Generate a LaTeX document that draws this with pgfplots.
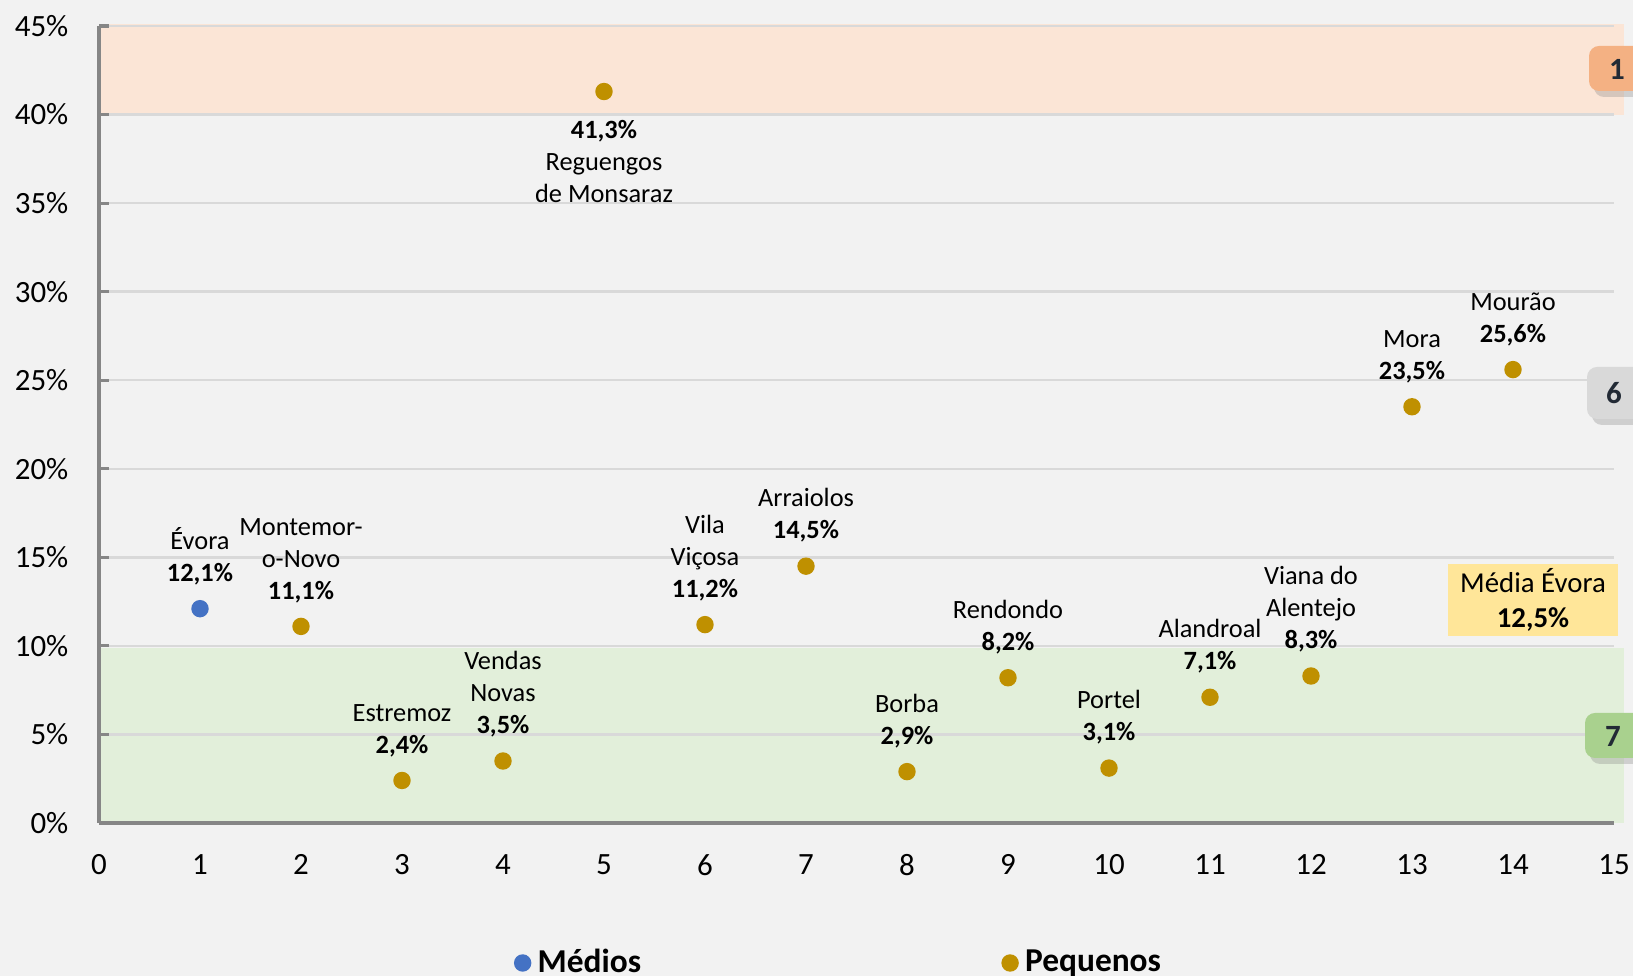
\documentclass[border=0pt]{standalone}
\usepackage{pgfplots}
\pgfplotsset{compat=1.18}
\usepackage{fontspec}
\setmainfont{Carlito}
\usetikzlibrary{shadows}

\definecolor{bg}{HTML}{F2F2F2}
\definecolor{gridc}{HTML}{D9D9D9}
\definecolor{axc}{HTML}{868686}
\definecolor{medios}{HTML}{4472C4}
\definecolor{pequenos}{HTML}{BF9000}
\definecolor{bandtop}{HTML}{FBE5D6}
\definecolor{bandlow}{HTML}{E2EFDA}
\definecolor{badgeo}{HTML}{F4B183}
\definecolor{badgeg}{HTML}{D9D9D9}
\definecolor{badgev}{HTML}{A9D18E}
\definecolor{mediabox}{HTML}{FFE699}
\definecolor{badgetxt}{HTML}{222A35}

\tikzset{
  lbl/.style={font=\fontsize{7.5}{9.1}\selectfont, align=center, inner sep=0pt, text=black},
}

\begin{document}
\begin{tikzpicture}
\begin{axis}[
  set layers,
  at={(9.9mm,15.3mm)}, anchor=south west,
  scale only axis, width=151.5mm, height=79.7mm,
  xmin=0, xmax=15, ymin=0, ymax=45,
  xtick={0,...,15},
  ytick={0,5,...,45},
  yticklabels={0\%,5\%,10\%,15\%,20\%,25\%,30\%,35\%,40\%,45\%},
  axis x line*=bottom, axis y line*=left,
  axis line style={-, axc, line width=0.9pt},
  ymajorgrids, grid style={gridc, line width=0.7pt},
  tick align=inside, major tick length=1mm,
  xtick style={draw=none},
  ytick style={axc, line width=0.9pt},
  ticklabel style={font=\fontsize{8.8}{10.5}\selectfont, text=black},
  yticklabel style={anchor=east, inner sep=0pt, xshift=-3mm},
  xticklabel style={anchor=north, inner sep=0pt, yshift=-3.1mm},
  /pgf/number format/assume math mode=true,
  clip=false,
  legend columns=2,
  legend image code/.code={\draw[#1] plot coordinates {(0,0)};},
  legend style={at={(axis description cs:0.49,0)}, anchor=center, yshift=-14.0mm,
    draw=none, fill=none, font=\bfseries\fontsize{9.5}{11}\selectfont,
    /tikz/every even column/.append style={column sep=35.4mm}},
]
\begin{pgfonlayer}{axis background}
\fill[bg] (rel axis cs:-0.2,-0.4) rectangle (rel axis cs:1.2,1.2);
\end{pgfonlayer}
\addplot[on layer=axis background, forget plot, fill=bandtop, draw=none]
  coordinates {(0,40) (15.1,40) (15.1,45.1) (0,45.1)} -- cycle;
\addplot[on layer=axis background, forget plot, fill=bandlow, draw=none]
  coordinates {(0,0) (15.1,0) (15.1,9.9) (0,9.9)} -- cycle;

% Médios
\addplot[only marks, mark=*, color=medios, mark size=0.8mm,
  mark options={fill=medios, draw=medios},
  point meta=explicit symbolic, nodes near coords={\pgfplotspointmeta},
  every node near coord/.style={lbl, anchor=south, yshift=2.3mm}]
  coordinates {(1,12.1) [{Évora\\\textbf{12,1\%}}]};
\addlegendentry{Médios}

% Pequenos
\addplot[only marks, mark=*, color=pequenos, mark size=0.8mm,
  mark options={fill=pequenos, draw=pequenos},
  point meta=explicit symbolic, nodes near coords={\pgfplotspointmeta},
  every node near coord/.style={lbl, anchor=south, yshift=2.3mm}]
  coordinates {
  (2,11.1) [{Montemor-\\o-Novo\\\textbf{11,1\%}}]
  (3,2.4) [{Estremoz\\\textbf{2,4\%}}]
  (4,3.5) [{Vendas\\Novas\\\textbf{3,5\%}}]
  (6,11.2) [{Vila\\Viçosa\\\textbf{11,2\%}}]
  (7,14.5) [{Arraiolos\\\textbf{14,5\%}}]
  (8,2.9) [{Borba\\\textbf{2,9\%}}]
  (9,8.2) [{Rendondo\\\textbf{8,2\%}}]
  (10,3.1) [{Portel\\\textbf{3,1\%}}]
  (11,7.1) [{Alandroal\\\textbf{7,1\%}}]
  (12,8.3) [{Viana do\\Alentejo\\\textbf{8,3\%}}]
  (13,23.5) [{Mora\\\textbf{23,5\%}}]
  (14,25.6) [{Mourão\\\textbf{25,6\%}}]
  };
\addlegendentry{Pequenos}

\addplot[forget plot, only marks, mark=*, color=pequenos, mark size=0.8mm,
  mark options={fill=pequenos, draw=pequenos},
  point meta=explicit symbolic, nodes near coords={\pgfplotspointmeta},
  every node near coord/.style={lbl, anchor=north, yshift=-2.8mm}]
  coordinates {(5,41.3) [{\textbf{41,3\%}\\Reguengos\\de Monsaraz}]};
\end{axis}

% Média Évora box
\node[fill=mediabox, minimum width=17mm, minimum height=7.2mm, inner sep=0pt,
  align=center, font=\fontsize{8.2}{10.2}\selectfont]
  at (153.3mm,37.6mm) {Média Évora\\\textbf{12,5\%}};

% badges
\fill[badgeo, rounded corners=1mm, drop shadow={shadow xshift=0.5mm, shadow yshift=-0.6mm, opacity=0.3}]
  (158.9mm,88.5mm) rectangle (168mm,93.0mm);
\node[font=\bfseries\fontsize{8.8}{10}\selectfont, text=badgetxt] at (161.7mm,90.7mm) {1};
\fill[badgeg, rounded corners=1mm, drop shadow={shadow xshift=0.5mm, shadow yshift=-0.6mm, opacity=0.3}]
  (158.7mm,55.7mm) rectangle (168mm,60.9mm);
\node[font=\bfseries\fontsize{8.8}{10}\selectfont, text=badgetxt] at (161.4mm,58.3mm) {6};
\fill[badgev, rounded corners=1mm, drop shadow={shadow xshift=0.5mm, shadow yshift=-0.6mm, opacity=0.3}]
  (158.5mm,21.8mm) rectangle (168mm,26.3mm);
\node[font=\bfseries\fontsize{8.8}{10}\selectfont, text=badgetxt] at (161.3mm,24.0mm) {7};

\pgfresetboundingbox
\path[use as bounding box] (0,0) rectangle (163.3mm,97.6mm);
\end{tikzpicture}
\end{document}
